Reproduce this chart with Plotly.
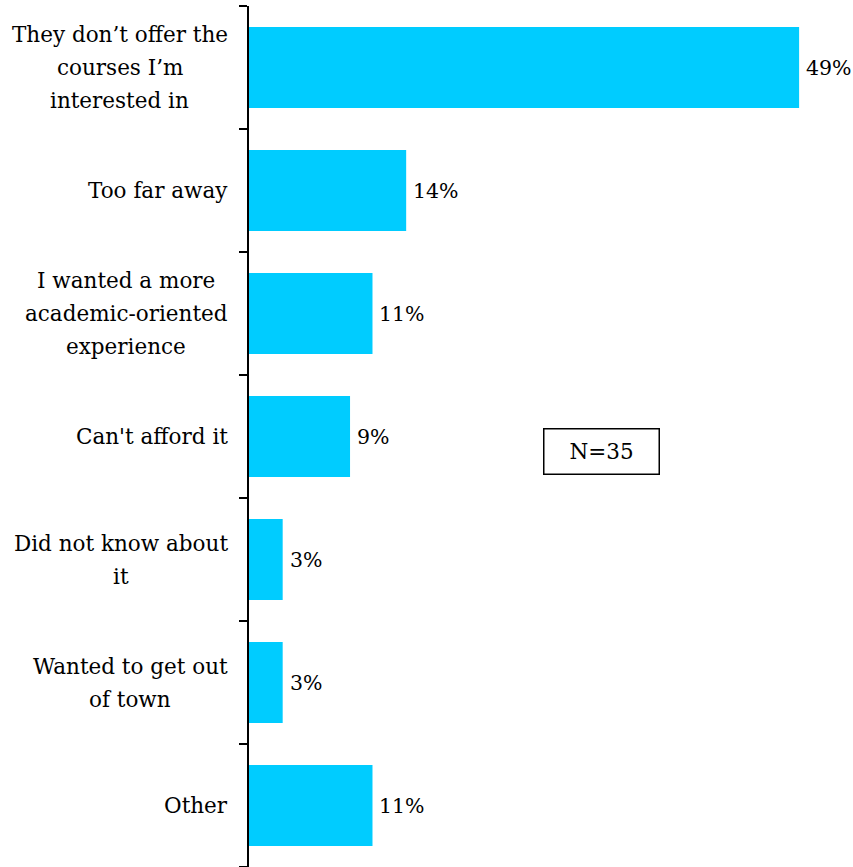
import plotly.graph_objects as go

# Survey responses: reasons for not choosing the local institution
categories = [
    "They don’t offer the<br>courses I’m<br>interested in",
    "Too far away",
    "I wanted a more<br>academic-oriented<br>experience",
    "Can't afford it",
    "Did not know about<br>it",
    "Wanted to get out<br>of town",
    "Other",
]
values = [49, 14, 11, 9, 3, 3, 11]
value_labels = ["49%", "14%", "11%", "9%", "3%", "3%", "11%"]
sample_note = "N=35"

FONT = "DejaVu Serif"
FS = 21.5
VAL_FS = 20.5
LINE_H = 33          # spacing between wrapped label lines (px)
LABEL_GAP = 20       # gap between label block and axis line (px)
# width of the widest line in each wrapped label block (px, at FS)
block_width = [216, None, 203, None, 214, 195, None]

fig = go.Figure(
    go.Bar(
        x=values,
        y=list(range(len(categories))),
        orientation="h",
        width=0.66,
        marker=dict(color="#00CCFF", line=dict(width=0)),
        hoverinfo="skip",
    )
)

annotations = []
# Category labels: right-anchored blocks with centred lines
for i, cat in enumerate(categories):
    lines = cat.split("<br>")
    n = len(lines)
    if n == 1:
        annotations.append(dict(
            x=0, xref="paper", y=i, yref="y",
            text=cat, showarrow=False,
            xanchor="right", yanchor="middle", xshift=-LABEL_GAP + 1,
            font=dict(family=FONT, size=FS, color="black"),
        ))
        continue
    centre = -LABEL_GAP - 1.5 - block_width[i] / 2
    for j, line in enumerate(lines):
        annotations.append(dict(
            x=0, xref="paper", y=i, yref="y",
            text=line, showarrow=False,
            xanchor="center", yanchor="middle",
            xshift=centre, yshift=((n - 1) / 2 - j) * LINE_H,
            font=dict(family=FONT, size=FS, color="black"),
        ))

# Value labels just past the bar ends
for i, (v, lab) in enumerate(zip(values, value_labels)):
    annotations.append(dict(
        x=v, xref="x", y=i, yref="y",
        text=lab, showarrow=False,
        xanchor="left", yanchor="middle", xshift=5,
        font=dict(family=FONT, size=VAL_FS, color="black"),
    ))

# Sample size box
annotations.append(dict(
    x=0.583, xref="paper", y=0.483, yref="paper",
    text=sample_note, showarrow=False,
    xanchor="center", yanchor="middle",
    width=112, height=42, borderpad=1,
    bordercolor="black", borderwidth=1.5, bgcolor="white",
    font=dict(family=FONT, size=FS, color="black"),
))

fig.update_layout(
    width=853, height=867,
    margin=dict(l=249, r=0, t=6, b=0),
    paper_bgcolor="white", plot_bgcolor="white",
    font=dict(family=FONT, size=FS, color="black"),
    showlegend=False,
    annotations=annotations,
    xaxis=dict(range=[0, 53.8], visible=False, fixedrange=True),
    yaxis=dict(
        range=[6.5, -0.5],
        tickmode="array",
        tickvals=[i - 0.5 for i in range(len(categories) + 1)],
        ticktext=[""] * (len(categories) + 1),
        ticks="outside", ticklen=8, tickwidth=2, tickcolor="black",
        showline=True, linecolor="black", linewidth=2,
        showgrid=False, zeroline=False, fixedrange=True,
    ),
)

fig.write_html("out.html")
